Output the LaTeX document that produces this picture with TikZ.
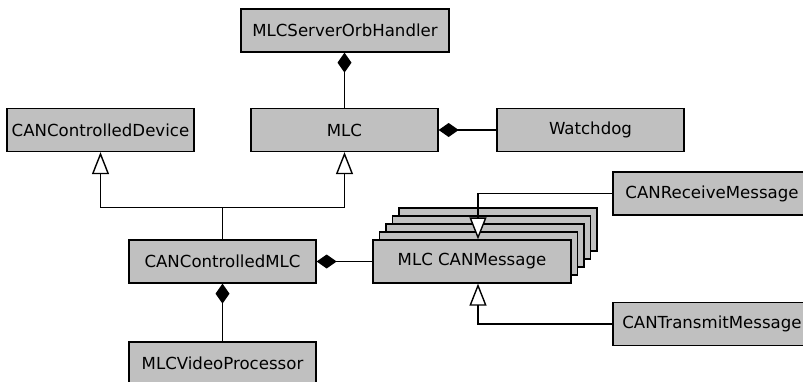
\documentclass[tikz,border=0pt]{standalone}
\usepackage{fontspec}
\setmainfont{DejaVu Sans}
\usetikzlibrary{arrows.meta}
\definecolor{boxgray}{RGB}{192,192,192}

\begin{document}
\begin{tikzpicture}[x=1pt,y=-1pt,
  cls/.style={draw=black, fill=boxgray, line width=1.3pt, minimum height=43pt,
    inner sep=0pt, font=\fontsize{16.6}{19}\selectfont},
  comp/.style={line width=1.4pt, -{Diamond[length=20pt,width=14pt]}},
  gen/.style={line width=1.4pt, -{Triangle[open,fill=white,length=22pt,width=17pt]}},
  stackbox/.style={draw=black, fill=boxgray, line width=1.3pt}
]
\clip (0,0) rectangle (803,381);
\fill[white] (0,0) rectangle (803,381);

% classes
\node[cls, minimum width=208pt] (orb) at (345,30.5) {MLCServerOrbHandler};
\node[cls, minimum width=187pt] (dev) at (100.5,130) {CANControlledDevice};
\node[cls, minimum width=187pt] (mlc) at (344.5,130) {MLC};
\node[cls, minimum width=187pt] (wd) at (590.5,130) {Watchdog};
\node[cls, minimum width=187pt] (cml) at (222.5,261.5) {CANControlledMLC};
\node[cls, minimum width=187pt] (vid) at (222.5,363.5) {MLCVideoProcessor};

% multi-object stack behind the message class
\foreach \k in {4,3,2,1}{
  \draw[stackbox] ({373+6.5*\k},{240-8*\k}) rectangle ++(198,43);
}
\node[cls, minimum width=198pt] (msg) at (472,261.5) {MLC CANMessage};

\node[cls, minimum width=198pt] (rcv) at (712,193.5) {CANReceiveMessage};
\node[cls, minimum width=198pt] (tx) at (712,324) {CANTransmitMessage};

% compositions
\draw[comp] (mlc.north) -- (mlc.north |- orb.south);
\draw[comp] (wd.west) -- (mlc.east);
\draw[comp] (msg.west) -- (cml.east);
\draw[comp] (vid.north) -- (cml.south);

% generalizations
\coordinate (j) at ([yshift=32pt]cml.north);
\draw[gen] (cml.north) -- (j) -| (dev.south);
\draw[gen] (j) -| (mlc.south);

\coordinate (rt) at ([xshift=6pt]msg.north);
\coordinate (tt) at ([xshift=6pt]msg.south);
\draw[gen] (rcv.west) -| (rt);
\draw[gen] (tx.west) -| (tt);
\end{tikzpicture}
\end{document}
